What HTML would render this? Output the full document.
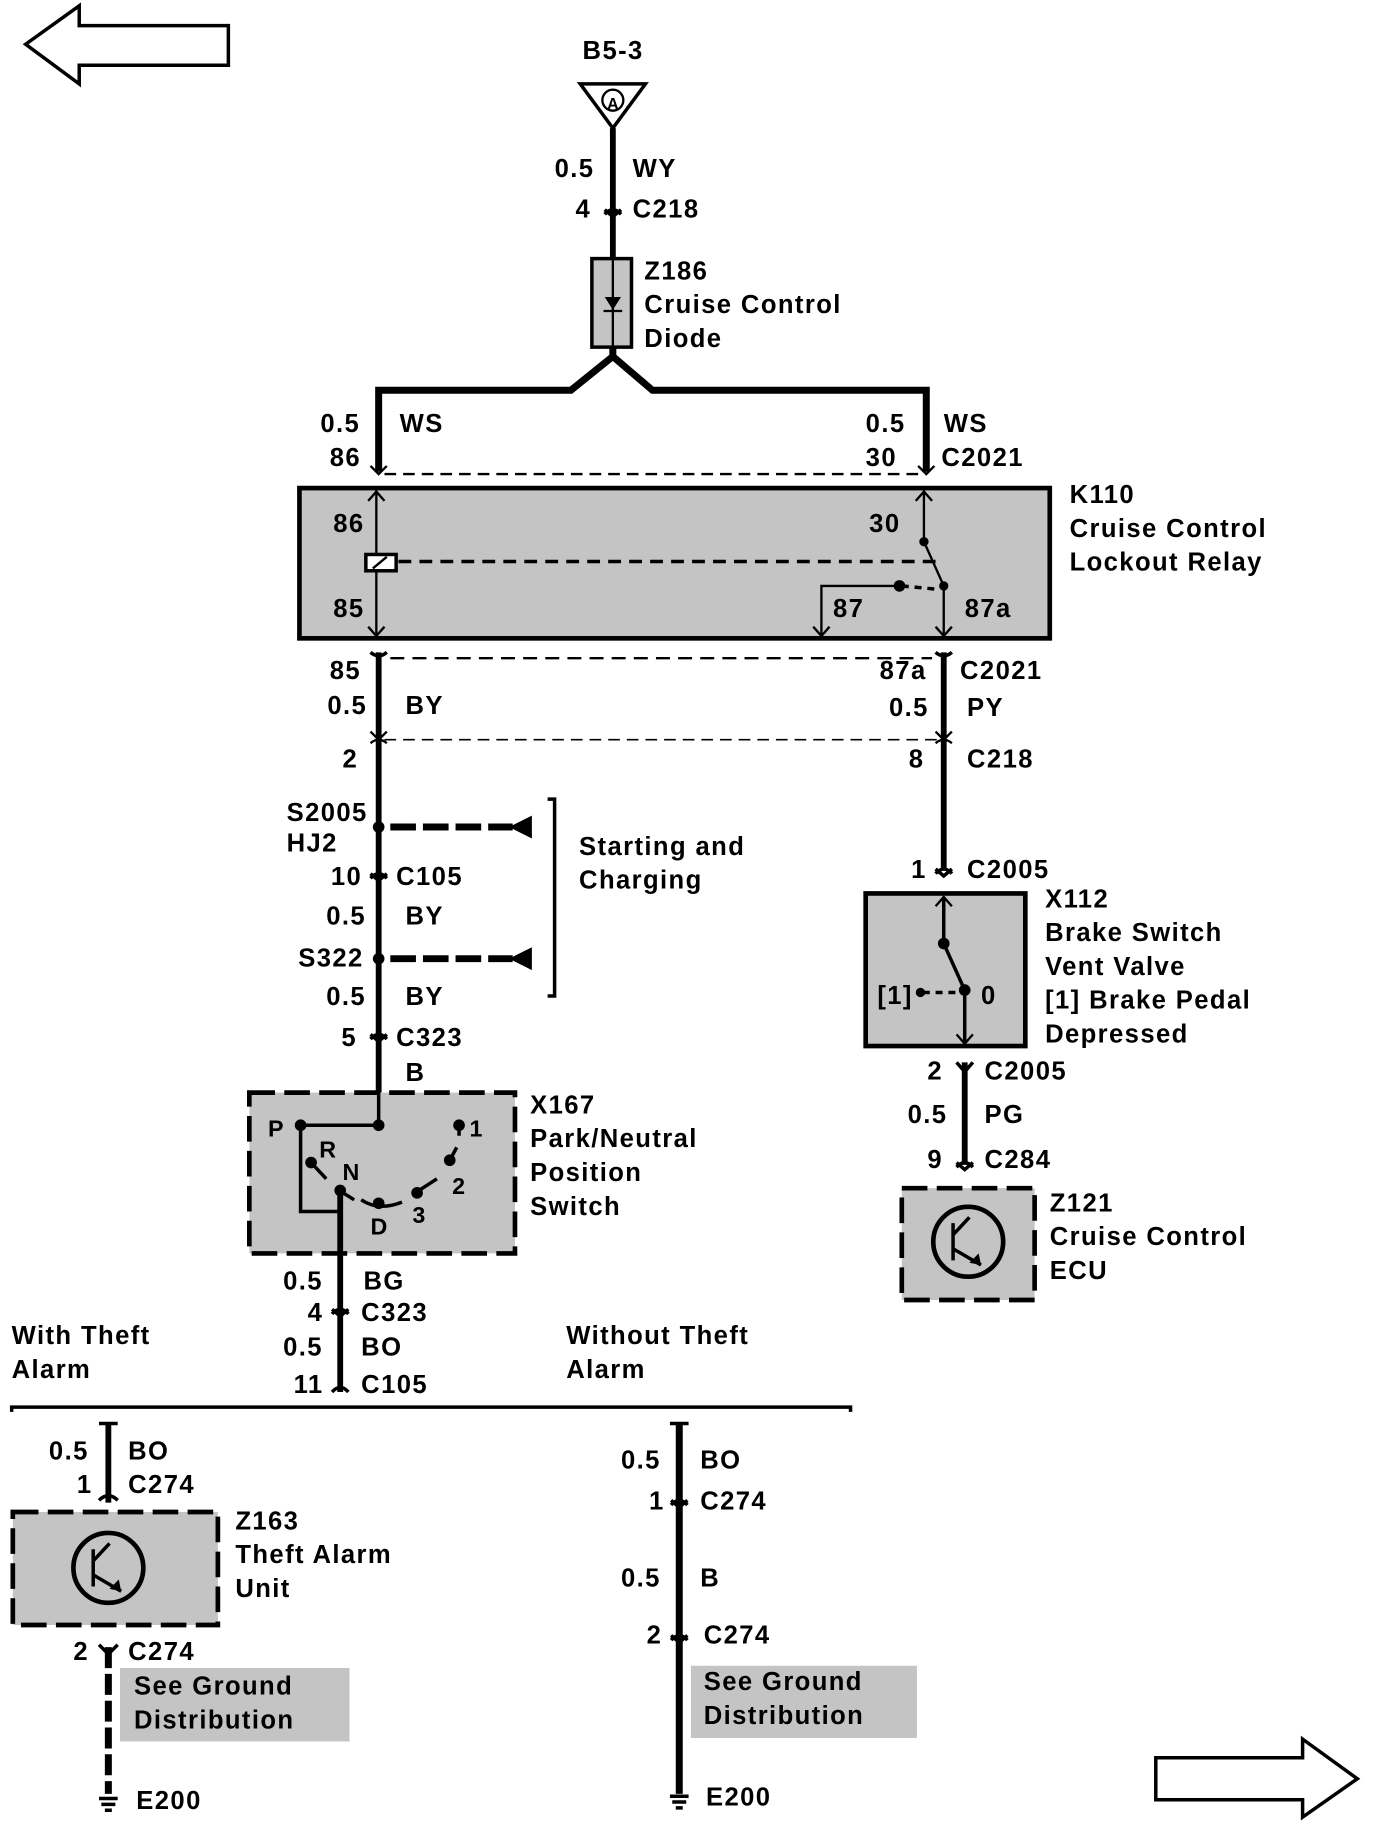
<!DOCTYPE html>
<html><head><meta charset="utf-8"><style>
html,body{margin:0;padding:0;background:#fff;}
svg{display:block}
text{font-family:"Liberation Sans",Arial,sans-serif;font-weight:bold;font-size:22px;letter-spacing:1.2px;fill:#000;}
</style></head><body>
<svg width="1376" height="1830" viewBox="0 0 1181 1571" preserveAspectRatio="none" xmlns="http://www.w3.org/2000/svg">
<g fill="none" stroke="#000">
<polygon points="22,38 68,5 68,22 196,22 196,56 68,56 68,72" stroke-width="3" fill="#fff"/>
<polygon points="1165,1527 1118,1493 1118,1509 992,1509 992,1545 1118,1545 1118,1560" stroke-width="3" fill="#fff"/>
<polygon points="498,72 554,72 526,110" stroke-width="3"/>
<circle cx="526" cy="86" r="9" stroke-width="2"/>
<line x1="526" y1="110" x2="526" y2="222" stroke-width="5"/>
<path d="M519,184 q7,-8 14,0 M519,180 l7,6 l7,-6" stroke-width="3"/>
<rect x="508" y="222" width="34" height="76" fill="#c4c4c4" stroke-width="3"/>
<line x1="526" y1="222" x2="526" y2="298" stroke-width="2"/>
<polygon points="519,255 533,255 526,266" fill="#000" stroke="none"/>
<line x1="518" y1="267" x2="534" y2="267" stroke-width="2"/>
<path d="M526,298 L526,306 L490,335 L325,335 L325,405 M526,306 L560,335 L795,335 L795,405" stroke-width="6"/>
<line x1="330" y1="407" x2="790" y2="407" stroke-width="2" stroke-dasharray="10,6"/>
<path d="M318,400 l7,7 l7,-7 M788,400 l7,7 l7,-7" stroke-width="2"/>
<rect x="257" y="419" width="644" height="129" fill="#c4c4c4" stroke-width="4"/>
<line x1="323" y1="421" x2="323" y2="546" stroke-width="2"/>
<path d="M316,430 l7,-8 l7,8 M316,538 l7,8 l7,-8" stroke-width="2"/>
<rect x="314" y="476" width="26" height="14" fill="#fff" stroke-width="3"/>
<line x1="320" y1="488" x2="332" y2="478" stroke-width="2"/>
<line x1="342" y1="482" x2="805" y2="482" stroke-width="3" stroke-dasharray="11,7"/>
<path d="M793,421 L793,465 L810,503 L810,546" stroke-width="2"/>
<path d="M786,430 l7,-8 l7,8 M803,538 l7,8 l7,-8 M698,538 l7,8 l7,-8" stroke-width="2"/>
<path d="M772,503 L705,503 L705,546" stroke-width="2"/>
<line x1="774" y1="503" x2="806" y2="506" stroke-width="3" stroke-dasharray="6,5"/>
<line x1="335" y1="565" x2="800" y2="565" stroke-width="2" stroke-dasharray="12,7"/>
<path d="M318,560 q7,6 14,0 M803,560 q7,6 14,0" stroke-width="3"/>
<line x1="325" y1="560" x2="325" y2="938" stroke-width="5"/>
<line x1="810" y1="560" x2="810" y2="745" stroke-width="5"/>
<line x1="330" y1="635" x2="805" y2="635" stroke-width="1.5" stroke-dasharray="10,6"/>
<path d="M318,628 l7,7 l7,-7 M318,638 q7,-6 14,0 M803,628 l7,7 l7,-7 M803,638 q7,-6 14,0" stroke-width="2"/>
<line x1="335" y1="710" x2="440" y2="710" stroke-width="6" stroke-dasharray="22,6"/>
<polygon points="438,710 456,701 456,719" fill="#000"/>
<line x1="335" y1="823" x2="440" y2="823" stroke-width="6" stroke-dasharray="22,6"/>
<polygon points="438,823 456,814 456,832" fill="#000"/>
<path d="M470,686 L476,686 L476,855 L470,855" stroke-width="3"/>
<path d="M318,754 q7,-8 14,0 M318,750 l7,6 l7,-6 M318,892 q7,-8 14,0 M318,888 l7,6 l7,-6" stroke-width="3"/>
<rect x="214" y="938" width="228" height="138" fill="#c4c4c4" stroke-width="4" stroke-dasharray="22,8"/>
<path d="M325,938 L325,966 L258,966 L258,1040 L292,1040" stroke-width="3"/>
<path d="M267,998 L280,1012 M288,1020 L304,1030 M310,1030 Q325,1040 345,1032 M355,1025 L375,1012 M385,998 L392,985 M394,975 L394,965" stroke-width="3"/>
<line x1="292" y1="1022" x2="292" y2="1195" stroke-width="5"/>
<path d="M285,1128 q7,-8 14,0 M285,1124 l7,6 l7,-6 M285,1195 q7,-8 14,0" stroke-width="3"/>
<path d="M10,1212 L10,1208 L730,1208 L730,1212" stroke-width="3"/>
<line x1="93" y1="1222" x2="93" y2="1290" stroke-width="5"/>
<path d="M85,1222 l16,0 M85,1288 q8,-8 16,0" stroke-width="3"/>
<rect x="11" y="1298" width="176" height="97" fill="#c4c4c4" stroke-width="4" stroke-dasharray="22,8"/>
<circle cx="93" cy="1346" r="30" stroke-width="4"/>
<path d="M80,1330 L80,1362 M80,1340 L94,1325 M80,1352 L104,1366" stroke-width="3"/>
<path d="M85,1412 l8,8 l8,-8" stroke-width="3"/>
<line x1="93" y1="1414" x2="93" y2="1540" stroke-width="6" stroke-dasharray="18,5"/>
<line x1="583" y1="1222" x2="583" y2="1540" stroke-width="6"/>
<path d="M575,1222 l16,0 M576,1292 q7,-8 14,0 M576,1288 l7,6 l7,-6 M576,1408 q7,-8 14,0 M576,1404 l7,6 l7,-6" stroke-width="3"/>
<path d="M85,1544 l16,0 M87,1549 l12,0 M90,1554 l6,0 M575,1542 l16,0 M577,1547 l12,0 M580,1552 l6,0" stroke-width="3"/>
<path d="M803,750 q7,-8 14,0 M803,746 l7,6 l7,-6" stroke-width="3"/>
<rect x="743" y="767" width="137" height="131" fill="#c4c4c4" stroke-width="4"/>
<path d="M810,770 L810,810 L828,850 L828,896" stroke-width="3"/>
<path d="M803,778 l7,-8 l7,8 M821,888 l7,8 l7,-8" stroke-width="2"/>
<line x1="792" y1="852" x2="826" y2="852" stroke-width="3" stroke-dasharray="6,5"/>
<path d="M821,912 l7,8 l7,-8" stroke-width="3"/>
<line x1="828" y1="912" x2="828" y2="1000" stroke-width="5"/>
<path d="M821,1002 q7,-8 14,0 M821,998 l7,6 l7,-6" stroke-width="3"/>
<rect x="774" y="1020" width="114" height="96" fill="#c4c4c4" stroke-width="4" stroke-dasharray="22,8"/>
<circle cx="831" cy="1066" r="30" stroke-width="4"/>
<path d="M818,1050 L818,1082 M818,1060 L832,1045 M818,1072 L842,1086" stroke-width="3"/>
</g>
<g fill="#000">
<circle cx="325" cy="710" r="5"/><circle cx="325" cy="823" r="5"/>
<circle cx="793" cy="465" r="4"/><circle cx="810" cy="503" r="4"/><circle cx="772" cy="503" r="5"/>
<circle cx="258" cy="966" r="5"/><circle cx="325" cy="966" r="5"/><circle cx="267" cy="998" r="5"/>
<circle cx="292" cy="1022" r="5"/><circle cx="325" cy="1033" r="5"/><circle cx="358" cy="1024" r="5"/>
<circle cx="386" cy="996" r="5"/><circle cx="394" cy="966" r="5"/>
<circle cx="810" cy="810" r="5"/><circle cx="828" cy="850" r="5"/><circle cx="790" cy="852" r="4"/>
<polygon points="842,1086 832,1084 840,1076"/><polygon points="104,1366 94,1364 102,1356"/>
</g>
<rect x="103" y="1432" width="197" height="63" fill="#c4c4c4"/>
<rect x="593" y="1430" width="194" height="62" fill="#c4c4c4"/>
<text x="526" y="94" text-anchor="middle" style="font-size:14px;letter-spacing:0">A</text>
<g dominant-baseline="central">
<text x="500" y="44">B5-3</text>
<text x="476" y="145">0.5</text><text x="543" y="145">WY</text>
<text x="494" y="180">4</text><text x="543" y="180">C218</text>
<text x="553" y="233">Z186</text><text x="553" y="262">Cruise Control</text><text x="553" y="291">Diode</text>
<text x="275" y="364">0.5</text><text x="343" y="364">WS</text><text x="283" y="393">86</text>
<text x="743" y="364">0.5</text><text x="810" y="364">WS</text><text x="743" y="393">30</text><text x="808" y="393">C2021</text>
<text x="918" y="425">K110</text><text x="918" y="454">Cruise Control</text><text x="918" y="483">Lockout Relay</text>
<text x="286" y="450">86</text><text x="286" y="523">85</text><text x="746" y="450">30</text>
<text x="715" y="523">87</text><text x="828" y="523">87a</text>
<text x="283" y="576">85</text><text x="755" y="576">87a</text><text x="824" y="576">C2021</text>
<text x="281" y="606">0.5</text><text x="348" y="606">BY</text>
<text x="763" y="608">0.5</text><text x="830" y="608">PY</text>
<text x="294" y="652">2</text><text x="780" y="652">8</text><text x="830" y="652">C218</text>
<text x="246" y="698">S2005</text><text x="246" y="724">HJ2</text>
<text x="284" y="753">10</text><text x="340" y="753">C105</text>
<text x="280" y="787">0.5</text><text x="348" y="787">BY</text>
<text x="256" y="823">S322</text>
<text x="280" y="856">0.5</text><text x="348" y="856">BY</text>
<text x="293" y="891">5</text><text x="340" y="891">C323</text>
<text x="348" y="921">B</text>
<text x="497" y="727">Starting and</text><text x="497" y="756">Charging</text>
<text x="455" y="949">X167</text><text x="455" y="978">Park/Neutral</text><text x="455" y="1007">Position</text><text x="455" y="1036">Switch</text>
<text x="230" y="969" style="font-size:20px">P</text><text x="274" y="987" style="font-size:20px">R</text>
<text x="294" y="1006" style="font-size:20px">N</text><text x="318" y="1053" style="font-size:20px">D</text>
<text x="354" y="1043" style="font-size:20px">3</text><text x="388" y="1018" style="font-size:20px">2</text>
<text x="403" y="969" style="font-size:20px">1</text>
<text x="243" y="1100">0.5</text><text x="312" y="1100">BG</text>
<text x="264" y="1127">4</text><text x="310" y="1127">C323</text>
<text x="243" y="1157">0.5</text><text x="310" y="1157">BO</text>
<text x="252" y="1189">11</text><text x="310" y="1189">C105</text>
<text x="10" y="1147">With Theft</text><text x="10" y="1176">Alarm</text>
<text x="486" y="1147">Without Theft</text><text x="486" y="1176">Alarm</text>
<text x="42" y="1246">0.5</text><text x="110" y="1246">BO</text>
<text x="66" y="1275">1</text><text x="110" y="1275">C274</text>
<text x="202" y="1306">Z163</text><text x="202" y="1335">Theft Alarm</text><text x="202" y="1364">Unit</text>
<text x="63" y="1418">2</text><text x="110" y="1418">C274</text>
<text x="115" y="1448">See Ground</text><text x="115" y="1477">Distribution</text>
<text x="117" y="1546">E200</text>
<text x="533" y="1254">0.5</text><text x="601" y="1254">BO</text>
<text x="557" y="1289">1</text><text x="601" y="1289">C274</text>
<text x="533" y="1355">0.5</text><text x="601" y="1355">B</text>
<text x="555" y="1404">2</text><text x="604" y="1404">C274</text>
<text x="604" y="1444">See Ground</text><text x="604" y="1473">Distribution</text>
<text x="606" y="1543">E200</text>
<text x="782" y="747">1</text><text x="830" y="747">C2005</text>
<text x="897" y="772">X112</text><text x="897" y="801">Brake Switch</text><text x="897" y="830">Vent Valve</text>
<text x="897" y="859">[1]  Brake Pedal</text><text x="897" y="888">Depressed</text>
<text x="753" y="855">[1]</text><text x="842" y="855">0</text>
<text x="796" y="920">2</text><text x="845" y="920">C2005</text>
<text x="779" y="957">0.5</text><text x="845" y="957">PG</text>
<text x="796" y="996">9</text><text x="845" y="996">C284</text>
<text x="901" y="1033">Z121</text><text x="901" y="1062">Cruise Control</text><text x="901" y="1091">ECU</text>
</g>
</svg>
</body></html>
